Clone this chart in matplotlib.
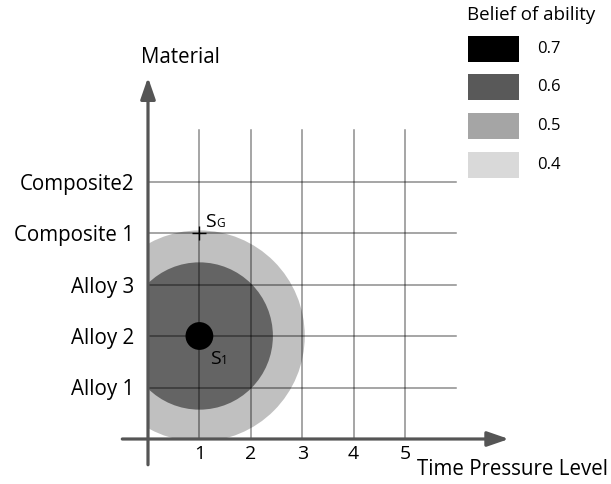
import matplotlib
matplotlib.use("Agg")
import matplotlib.pyplot as plt
from matplotlib.patches import Circle, Rectangle

plt.rcParams['font.family'] = ['Open Sans', 'DejaVu Sans']

# ---- data ----
x_ticks = [1, 2, 3, 4, 5]
x_ticklabels = ["1", "2", "3", "4", "5"]
y_ticks = [1, 2, 3, 4, 5]
y_ticklabels = ["Alloy 1", "Alloy 2", "Alloy 3", "Composite 1", "Composite2"]
grid_extent = 6
belief_levels = ["0.7", "0.6", "0.5", "0.4"]
legend_colors = ["#000000", "#595959", "#a5a5a5", "#d9d9d9"]
start_point = (1, 2)      # S1: time pressure 1, Alloy 2
goal_point = (1, 4)       # SG: time pressure 1, Composite 1
circle_radii = [2.05, 1.43, 0.27]
circle_colors = ["#c0c0c0", "#646464", "#000000"]

W, H = 611, 484
fig = plt.figure(figsize=(W / 100, H / 100), dpi=100)
ax = fig.add_axes([0, 0, 1, 1])

# pixel mapping: origin at (148, 439), ~51.4 px per unit
ox, oy, ux, uy = 148, 439, 51.4, 51.5
ax.set_xlim(-ox / ux, (W - ox) / ux)
ax.set_ylim(-(H - oy) / uy, oy / uy)

# circles (clipped to positive quadrant)
clip = Rectangle((0, 0), 10, 10, transform=ax.transData, visible=False)
ax.add_patch(clip)
for r, c in zip(circle_radii[:2], circle_colors[:2]):
    circ = Circle(start_point, r, facecolor=c, edgecolor='none', zorder=1)
    ax.add_patch(circ)
    circ.set_clip_path(clip)

# grid lines
for xv in x_ticks:
    ax.plot([xv, xv], [0, grid_extent], color='black', alpha=0.45, lw=1.1, zorder=2)
for yv in y_ticks:
    ax.plot([0, grid_extent], [yv, yv], color='black', alpha=0.45, lw=1.1, zorder=2)
# dot on top of grid
ax.add_patch(Circle(start_point, circle_radii[2], facecolor=circle_colors[2],
                    edgecolor='none', zorder=3))

# axes arrows
arrow_kw = dict(arrowstyle='-|>,head_length=1.3,head_width=0.45', color='#555555', lw=2.3,
                shrinkA=0, shrinkB=0)
ax.annotate('', xy=(7.02, 0), xytext=(-0.5, 0), arrowprops=arrow_kw, zorder=4)
ax.annotate('', xy=(0, 7.02), xytext=(0, -0.5), arrowprops=arrow_kw, zorder=4)

# ticks via spines at origin
for s in ['top', 'right']:
    ax.spines[s].set_visible(False)
ax.spines['left'].set_position(('data', 0))
ax.spines['bottom'].set_position(('data', 0))
ax.spines['left'].set_visible(False)
ax.spines['bottom'].set_visible(False)
ax.set_xticks(x_ticks)
ax.set_xticklabels(x_ticklabels, fontsize=14)
ax.set_yticks(y_ticks)
ax.set_yticklabels(y_ticklabels, fontsize=14.8)
ax.tick_params(axis='x', length=0, pad=4.5)
ax.tick_params(axis='y', length=0, pad=10)

# axis labels
ax.text(-0.13, 7.40, "Material", fontsize=14.8, ha='left', va='center')
ax.text(5.24, -0.59, "Time Pressure Level", fontsize=14.8, ha='left', va='center')

# goal marker and labels
ax.plot(*goal_point, marker='+', color='black', ms=10, mew=1.0, zorder=5)
ax.text(1.115, 4.117, "S", fontsize=14, ha='left', va='baseline', zorder=5)
ax.text(1.33, 4.117, "G", fontsize=8.5, ha='left', va='baseline', zorder=5)
ax.text(1.215, 1.456, "S", fontsize=14, ha='left', va='baseline', zorder=5)
ax.text(1.42, 1.456, "1", fontsize=8.5, ha='left', va='baseline', zorder=5)

# legend (manual, pixel positions)
fig.text(467 / W, 1 - 15 / H, "Belief of ability", fontsize=13.5, ha='left', va='center')
tops = [36, 74, 113, 152]
for lvl, col, t in zip(belief_levels, legend_colors, tops):
    fig.patches.append(Rectangle((468 / W, 1 - (t + 26) / H), 51 / W, 26 / H,
                                 transform=fig.transFigure, facecolor=col, edgecolor='none'))
    fig.text(537 / W, 1 - (t + 13) / H, lvl, fontsize=12, ha='left', va='center')

fig.savefig("out.png", dpi=100)
